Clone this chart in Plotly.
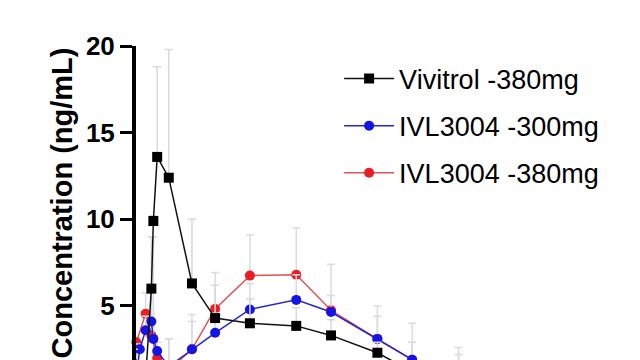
import plotly.graph_objects as go

# Time points (days) and mean concentrations (ng/mL)
viv_days = [0, 1, 1.5, 1.67, 2, 3, 5, 7, 10, 14, 17, 21, 24, 28]
viv_conc = [2.1, 0.8, 6.0, 9.9, 13.6, 12.4, 6.3, 4.3, 4.0, 3.85, 3.3, 2.3, 1.2, 0.9]
viv_sd = [0.4, 0.3, 3.0, 0.3, 5.2, 7.4, 3.7, 1.9, 1.4, 1.05, 0.9, 0.6, 0.6, 0.5]

ivl300_days = [0, 0.5, 1, 1.5, 1.67, 2, 3, 5, 7, 10, 14, 17, 21, 24, 28]
ivl300_conc = [0.0, 2.5, 3.6, 4.1, 3.1, 2.4, 1.5, 2.5, 3.45, 4.8, 5.35, 4.65, 3.1, 1.9, 1.1]
ivl300_sd = [0.0, 0.3, 0.8, 1.7, 5.9, 0.5, 1.6, 1.6, 1.15, 1.5, 1.45, 0.95, 1.3, 1.0, 1.1]

ivl380_days = [0, 0.2, 1, 1.5, 2, 3, 5, 7, 10, 14, 17, 21, 24, 28]
ivl380_conc = [0.0, 2.9, 4.55, 3.3, 2.0, 1.3, 2.5, 4.83, 6.75, 6.8, 4.75, 3.1, 1.9, 1.0]
ivl380_sd = [0.0, 0.3, 1.2, 0.5, 0.5, 1.8, 2.0, 2.1, 2.35, 2.7, 2.65, 1.9, 2.1, 1.6]

series_names = ["Vivitrol -380mg", "IVL3004 -300mg", "IVL3004 -380mg"]
y_ticks = [5, 10, 15, 20]

FONT = "Liberation Sans, Arial, sans-serif"

def err(sd, color):
    return dict(type="data", symmetric=False, array=sd, arrayminus=[0] * len(sd),
                color=color, thickness=1.5, width=4)

fig = go.Figure()
fig.add_trace(go.Scatter(
    x=ivl380_days, y=ivl380_conc, name=series_names[2], mode="lines+markers",
    line=dict(color="#e05252", width=1.5),
    marker=dict(symbol="circle", size=10, color="#ec1c24"),
    error_y=err(ivl380_sd, "#dcdcdc"), cliponaxis=False,
    legendrank=3, legendgroup="c"))
fig.add_trace(go.Scatter(
    x=ivl300_days, y=ivl300_conc, name=series_names[1], mode="lines+markers",
    line=dict(color="#2626c8", width=1.5),
    marker=dict(symbol="circle", size=10, color="#1414e6"),
    error_y=err(ivl300_sd, "#d6dae6"), cliponaxis=False,
    legendrank=2, legendgroup="b"))
fig.add_trace(go.Scatter(
    x=viv_days, y=viv_conc, name=series_names[0], mode="lines+markers",
    line=dict(color="#111111", width=1.5),
    marker=dict(symbol="square", size=10, color="#000000"),
    error_y=err(viv_sd, "#d8d8d8"), cliponaxis=False,
    legendrank=1, legendgroup="a"))

# the page body adds an 8px offset; compensate so the plot area spans x 136..640, y 46..360
OFF = 8
px_per_day = 11.59
left = 136
x0 = (left - 134) / px_per_day
fig.update_layout(
    width=640 - OFF, height=360 - OFF,
    margin=dict(l=left - OFF, r=0, t=46 - OFF, b=0, pad=0, autoexpand=False),
    paper_bgcolor="white", plot_bgcolor="white",
    font=dict(family=FONT, color="black"),
    showlegend=True,
    legend=dict(x=0.403, y=0.973, xanchor="left", yanchor="top",
                font=dict(family=FONT, size=27, color="black"),
                bgcolor="rgba(0,0,0,0)", tracegroupgap=9, itemwidth=50,
                traceorder="grouped"),
    xaxis=dict(range=[x0, x0 + (640 - left) / px_per_day], visible=False,
               showgrid=False, zeroline=False),
    yaxis=dict(range=[20 - 314 / 17.33, 20], tickvals=y_ticks,
               ticktext=[str(v) for v in y_ticks], automargin=False,
               showline=True, linewidth=4, linecolor="black",
               ticks="outside", ticklen=12, tickwidth=3, tickcolor="black",
               tickfont=dict(family=FONT, size=26, color="black", weight="bold"),
               showgrid=False, zeroline=False,
               title=dict(text="<b>Concentration (ng/mL)</b>",
                          font=dict(family=FONT, size=29, color="black"),
                          standoff=6)),
)

fig.write_html("out.html")
